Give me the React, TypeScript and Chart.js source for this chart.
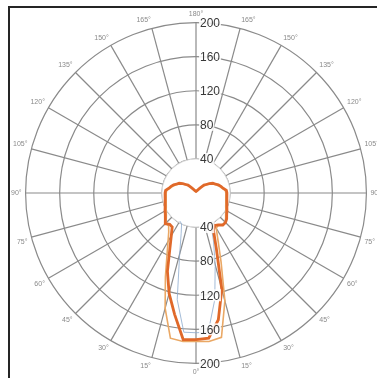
import React, { useEffect, useRef } from 'react';
import { Chart, registerables } from 'chart.js';

Chart.register(...registerables);

// Spoke labels, clockwise from the top (every 15°)
const spokeLabels = [
  '180°', '165°', '150°', '135°', '120°', '105°', '90°', '75°', '60°', '45°', '30°', '15°',
  '0°', '15°', '30°', '45°', '60°', '75°', '90°', '105°', '120°', '135°', '150°', '165°',
];
// radial tick labels
const radialTicks = [40, 80, 120, 160, 200];

// Intensity values at gamma = 0°, 5°, 10°, ... 180° (0° = straight down)
const mainRight = [
  172, 171, 151, 117, 70, 48.5, 44, 45.7, 49, 49, 47, 44, 42, 40, 38.6, 37.5, 36.8, 36.4, 36.3,
  35.8, 32.3, 30.3, 27.9, 25, 22.8, 19, 15.5, 13.2, 8.3, 5.6, 4.1, 3.2, 2.8, 2.4, 2.1, 1.9, 1.8,
];
const mainLeft = [
  172, 172.6, 144.6, 122, 98, 72.7, 58, 48.7, 48, 51, 47, 44, 42, 40, 38.6, 37.5, 36.8, 36.4, 36.3,
  35.8, 32.3, 30.3, 27.9, 25, 22.8, 19, 15.5, 13.2, 8.3, 5.6, 4.1, 3.2, 2.8, 2.4, 2.1, 1.9, 1.8,
];
const secondRight = [
  174, 175, 172, 131, 86, 61, 47.5, 46, 48.5, 48.5, 45.5, 42.5, 40.5, 38.5, 37.2, 36.2, 35.5, 35.1, 35,
  34.5, 31, 29, 26.6, 23.8, 21.5, 17.8, 14.4, 12.2, 7.6, 5, 3.6, 2.8, 2.4, 2, 1.8, 1.6, 1.5,
];
const secondLeft = [
  174, 175, 173, 140, 105, 80.6, 65.6, 55.8, 50, 50, 45.5, 42.5, 40.5, 38.5, 37.2, 36.2, 35.5, 35.1, 35,
  34.5, 31, 29, 26.6, 23.8, 21.5, 17.8, 14.4, 12.2, 7.6, 5, 3.6, 2.8, 2.4, 2, 1.8, 1.6, 1.5,
];
const thirdRight = [
  164, 164, 127, 87, 60, 42, 38, null, null, null, null, null, null, null, null, null, null, null, null,
  null, null, null, null, null, null, null, null, null, null, null, null, null, null, null, null, null, null,
];
const thirdLeft = [
  164, 164, 127, 74, 51, 40, 38, null, null, null, null, null, null, null, null, null, null, null, null,
  null, null, null, null, null, null, null, null, null, null, null, null, null, null, null, null, null, null,
];

const STEP = 5; // degrees between samples
const COUNT = 360 / STEP;

const radarLabels = Array.from({ length: COUNT }, (_, i) => (i % 3 === 0 ? spokeLabels[i / 3] : ''));

function toRadar(right: (number | null)[], left: (number | null)[]) {
  return Array.from({ length: COUNT }, (_, i) => {
    const a = i * STEP; // clockwise from top
    return a <= 180 ? right[(180 - a) / STEP] : left[(a - 180) / STEP];
  });
}

const overlay = {
  id: 'photometricOverlay',
  beforeDatasetsDraw(chart: any) {
    const s = chart.scales.r;
    const ctx = chart.ctx;
    const r0 = s.getDistanceFromCenterForValue(radialTicks[0]);
    ctx.save();
    ctx.beginPath();
    ctx.arc(s.xCenter, s.yCenter, r0, 0, Math.PI * 2);
    ctx.fillStyle = '#ffffff';
    ctx.fill();
    ctx.strokeStyle = '#dcdcdc';
    ctx.lineWidth = 1;
    ctx.stroke();
    ctx.restore();
  },
  afterDatasetsDraw(chart: any) {
    const s = chart.scales.r;
    const ctx = chart.ctx;
    ctx.save();
    ctx.font = '12px "Liberation Sans", Arial, sans-serif';
    ctx.textBaseline = 'middle';
    ctx.textAlign = 'left';
    radialTicks.forEach((v) => {
      const d = s.getDistanceFromCenterForValue(v);
      const txt = String(v);
      const w = ctx.measureText(txt).width;
      [s.yCenter - d, s.yCenter + d].forEach((y) => {
        ctx.fillStyle = 'rgba(255,255,255,0.85)';
        ctx.fillRect(s.xCenter + 3, y - 6, w + 2, 12);
        ctx.fillStyle = '#383838';
        ctx.fillText(txt, s.xCenter + 4, y + 1);
      });
    });
    ctx.restore();
  },
};

export default function App() {
  const ref = useRef<HTMLCanvasElement | null>(null);

  useEffect(() => {
    if (!ref.current) return;
    const grey = '#8a8a8a';
    const chart = new Chart(ref.current, {
      type: 'radar',
      data: {
        labels: radarLabels,
        datasets: [
          {
            label: 'C0-C180',
            data: toRadar(mainRight, mainLeft),
            borderColor: '#e0692a',
            borderWidth: 2.8,
            fill: false,
            pointRadius: 0,
            tension: 0,
          },
          {
            label: 'C90-C270',
            data: toRadar(secondRight, secondLeft),
            borderColor: '#eaa865',
            borderWidth: 1.6,
            fill: false,
            pointRadius: 0,
            tension: 0,
          },
          {
            label: 'C45-C225',
            data: toRadar(thirdRight, thirdLeft),
            borderColor: 'rgba(140,170,205,0.8)',
            borderWidth: 1,
            fill: false,
            pointRadius: 0,
            tension: 0,
            spanGaps: false,
          },
        ],
      },
      options: {
        animation: false,
        responsive: false,
        plugins: { legend: { display: false }, tooltip: { enabled: false } },
        scales: {
          r: {
            min: 0,
            max: 200,
            ticks: { display: false, stepSize: 40 },
            grid: { circular: true, color: grey, lineWidth: 1.2 },
            angleLines: {
              color: grey,
              lineWidth: (c: any) => (c.index % 3 === 0 ? 1.2 : 0),
            },
            pointLabels: {
              display: true,
              padding: 4,
              color: '#8a8a8a',
              font: { size: 7, family: '"Liberation Sans", Arial, sans-serif' },
            },
          },
        },
      },
      plugins: [overlay],
    } as any);
    const s: any = chart.scales.r;
    ref.current.style.left = 186 - s.xCenter + 'px';
    ref.current.style.top = 185 - s.yCenter + 'px';
    return () => chart.destroy();
  }, []);

  return (
    <div
      style={{
        position: 'absolute',
        left: 8,
        top: 6,
        width: 369,
        height: 372,
        borderTop: '2px solid #252525',
        borderLeft: '2px solid #252525',
        boxSizing: 'border-box',
        overflow: 'hidden',
        background: '#fff',
      }}
    >
      <canvas ref={ref} width={371} height={371} style={{ position: 'absolute', left: 0, top: 0 }} />
    </div>
  );
}
